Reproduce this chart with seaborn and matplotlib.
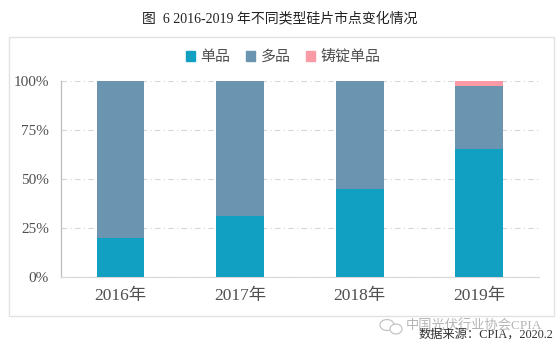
import pandas as pd
import seaborn as sns
import matplotlib.pyplot as plt
from matplotlib.patches import Rectangle, Ellipse

# Dados
anos = ['2016年', '2017年', '2018年', '2019年']
mono = [19.5, 31, 45, 65]
multi = [80.5, 69, 55, 32.5]
lingote = [0, 0, 0, 2.5]
ticks_y = [0, 25, 50, 75, 100]
nomes = ['单品', '多品', '铸锭单品']
cores = ['#12a0c2', '#6a94af', '#f99aa5']

sns.set_theme(style='white')
plt.rcParams['font.family'] = ['Liberation Serif', 'Noto Sans CJK SC', 'DejaVu Sans']

df = pd.DataFrame({'ano': anos, nomes[0]: mono, nomes[1]: multi, nomes[2]: lingote})

W, H = 560, 351
fig = plt.figure(figsize=(W / 100, H / 100), dpi=100)
ax = fig.add_axes([60.7 / W, 1 - 276.5 / H, (539 - 60.7) / W, (276.5 - 81) / H])

# Moldura em volta do grafico
fig.add_artist(Rectangle((8.5 / W, 1 - 315.5 / H), 545 / W, 279 / H, transform=fig.transFigure,
                         facecolor='white', edgecolor='#e2e2e2', linewidth=1))
ax.set_zorder(2)
ax.patch.set_alpha(0)

# Barras empilhadas
base = pd.Series([0.0] * len(df))
for nome, cor in zip(nomes, cores):
    sns.barplot(data=df, x='ano', y=nome, color=cor, width=0.4, bottom=base, saturation=1,
                linewidth=0, ax=ax, zorder=3)
    base = base + df[nome]

ax.set_xlim(-0.5, 3.5)
ax.set_ylim(0, 100)
ax.set_yticks(ticks_y)
ax.set_yticklabels([f'{t}%' for t in ticks_y])
ax.set_xlabel('')
ax.set_ylabel('')
ax.tick_params(axis='x', length=0, labelsize=12.5, labelcolor='#505050', pad=8)
ax.tick_params(axis='y', length=0, labelsize=11, labelcolor='#505050', pad=8.5)

# Grade tracejada
ax.set_axisbelow(True)
ax.grid(axis='y', color='#d6d6d6', linewidth=0.8, linestyle=(0, (5, 3, 1, 3)))
sns.despine(ax=ax, top=True, right=True)
ax.spines['left'].set_color('#bdbdbd')
ax.spines['left'].set_linewidth(0.9)
ax.spines['bottom'].set_color('#d9d9d9')
ax.spines['bottom'].set_linewidth(0.9)

# Legenda
alcas = [Rectangle((0, 0), 1, 1, color=c) for c in cores]
fig.legend(alcas, nomes, loc='center', bbox_to_anchor=(283 / W, 1 - 57 / H), ncol=3, frameon=False,
           fontsize=10.8, labelcolor='#505050', handlelength=0.6, handleheight=0.6, handletextpad=0.4,
           columnspacing=1.0)

fig.text(280 / W, 1 - 19 / H, '图  6 2016-2019 年不同类型硅片市点变化情况', ha='center', va='center',
         fontsize=10, color='#222222')

# Marca d'agua e fonte
for x, y, w, h in [(387, 325, 14, 11), (396, 329, 12, 10)]:
    fig.add_artist(Ellipse((x / W, 1 - y / H), w / W, h / H, transform=fig.transFigure,
                           facecolor='white', edgecolor='#c4c4c4', linewidth=0.9))
fig.text(474 / W, 1 - 326 / H, '中国光伏行业协会CPIA', ha='center', va='center', fontsize=9.5, color='#b5b5b5')
fig.text(553 / W, 1 - 335 / H, '数据来源：CPIA，2020.2', ha='right', va='center', fontsize=8.8, color='#333333')

fig.savefig('out.png', dpi=100)
